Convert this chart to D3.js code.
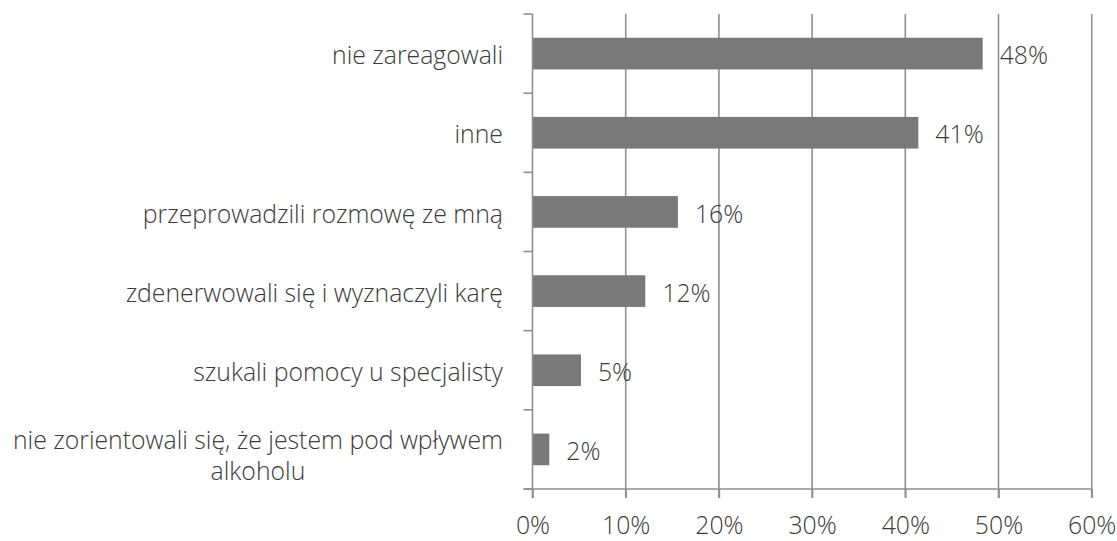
<!DOCTYPE html>
<html><head><meta charset="utf-8">
<script src="https://cdn.jsdelivr.net/npm/d3@7"></script>
<style>body{margin:0;background:#fff}svg{display:block}</style>
</head><body>
<script>
const categories = [
  ["nie zareagowali"],
  ["inne"],
  ["przeprowadzili rozmowę ze mną"],
  ["zdenerwowali się i wyznaczyli karę"],
  ["szukali pomocy u specjalisty"],
  ["nie zorientowali się, że jestem pod wpływem", "alkoholu"]
];
const values = [48.3, 41.4, 15.6, 12.1, 5.2, 1.8];
const valueLabels = ["48%", "41%", "16%", "12%", "5%", "2%"];
const xTicks = [0, 10, 20, 30, 40, 50, 60];
const xTickLabels = ["0%", "10%", "20%", "30%", "40%", "50%", "60%"];

const W = 1117, H = 541;
const m = {left: 532.5, right: W - 1091.7, top: 14, bottom: H - 489};
const font = "'Open Sans', sans-serif";
const textColor = "#3a3a3a";
const fs = 24.8;

const svg = d3.select("body").append("svg").attr("width", W).attr("height", H);
const x = d3.scaleLinear().domain([0, 60]).range([m.left, W - m.right]);
const y = d3.scaleBand().domain(d3.range(categories.length)).range([m.top, H - m.bottom]).paddingInner(0.6).paddingOuter(0.3);
const yb = d3.scaleBand().domain(d3.range(categories.length)).range([m.top, H - m.bottom]);

// gridlines
svg.append("g").selectAll("line").data(xTicks.slice(1)).join("line")
  .attr("x1", d => x(d)).attr("x2", d => x(d))
  .attr("y1", m.top).attr("y2", H - m.bottom + 9)
  .attr("stroke", "#8f8f8f").attr("stroke-width", 1.6);

// bars
svg.append("g").selectAll("rect").data(values).join("rect")
  .attr("x", x(0)).attr("y", (d, i) => y(i))
  .attr("width", d => x(d) - x(0)).attr("height", y.bandwidth())
  .attr("fill", "#797979");

// bottom axis
const xAxis = d3.axisBottom(x).tickValues(xTicks).tickFormat((d, i) => xTickLabels[i]).tickSize(9);
const gx = svg.append("g").attr("transform", `translate(0,${H - m.bottom})`).call(xAxis);
gx.select(".domain").remove();
gx.selectAll(".tick line").attr("stroke", "#8f8f8f").attr("stroke-width", 1.6);
gx.selectAll(".tick text").attr("font-family", font).attr("font-size", fs).attr("font-weight", 300)
  .attr("fill", textColor).attr("y", 44.5).attr("dy", 0);
gx.append("line").attr("x1", x(0) - 9).attr("x2", x(60)).attr("stroke", "#8f8f8f").attr("stroke-width", 1.6);

// left axis with category boundary ticks
const bounds = d3.range(categories.length + 1).map(i => m.top + i * yb.step());
const gy = svg.append("g");
gy.append("line").attr("x1", x(0)).attr("x2", x(0)).attr("y1", m.top).attr("y2", H - m.bottom + 9)
  .attr("stroke", "#8f8f8f").attr("stroke-width", 1.6);
gy.selectAll("line.t").data(bounds).join("line").attr("class", "t")
  .attr("x1", x(0) - 9).attr("x2", x(0)).attr("y1", d => d).attr("y2", d => d)
  .attr("stroke", "#8f8f8f").attr("stroke-width", 1.6);

// category labels
const lh = 31;
const cl = svg.append("g");
categories.forEach((lines, i) => {
  const cy = yb(i) + yb.bandwidth() / 2 + 2;
  const t = cl.append("text").attr("font-family", font).attr("font-size", fs).attr("font-weight", 300).attr("fill", textColor);
  if (lines.length === 1) {
    t.attr("x", 503).attr("y", cy).attr("dy", "0.35em").attr("text-anchor", "end").text(lines[0]);
  } else {
    const tmp = cl.append("text").attr("font-family", font).attr("font-size", fs).attr("font-weight", 300).text(lines[0]);
    const w = tmp.node().getComputedTextLength(); tmp.remove();
    const cx = 503 - w / 2;
    t.attr("text-anchor", "middle");
    lines.forEach((s, k) => {
      t.append("tspan").attr("x", cx).attr("y", cy + 4 + (k - (lines.length - 1) / 2) * lh).attr("dy", "0.35em").text(s);
    });
  }
});

// value labels
svg.append("g").selectAll("text").data(values).join("text")
  .attr("x", d => x(d) + 17).attr("y", (d, i) => y(i) + y.bandwidth() / 2 + 2).attr("dy", "0.35em")
  .attr("font-family", font).attr("font-size", fs).attr("font-weight", 300).attr("fill", textColor)
  .text((d, i) => valueLabels[i]);
</script>
</body></html>
